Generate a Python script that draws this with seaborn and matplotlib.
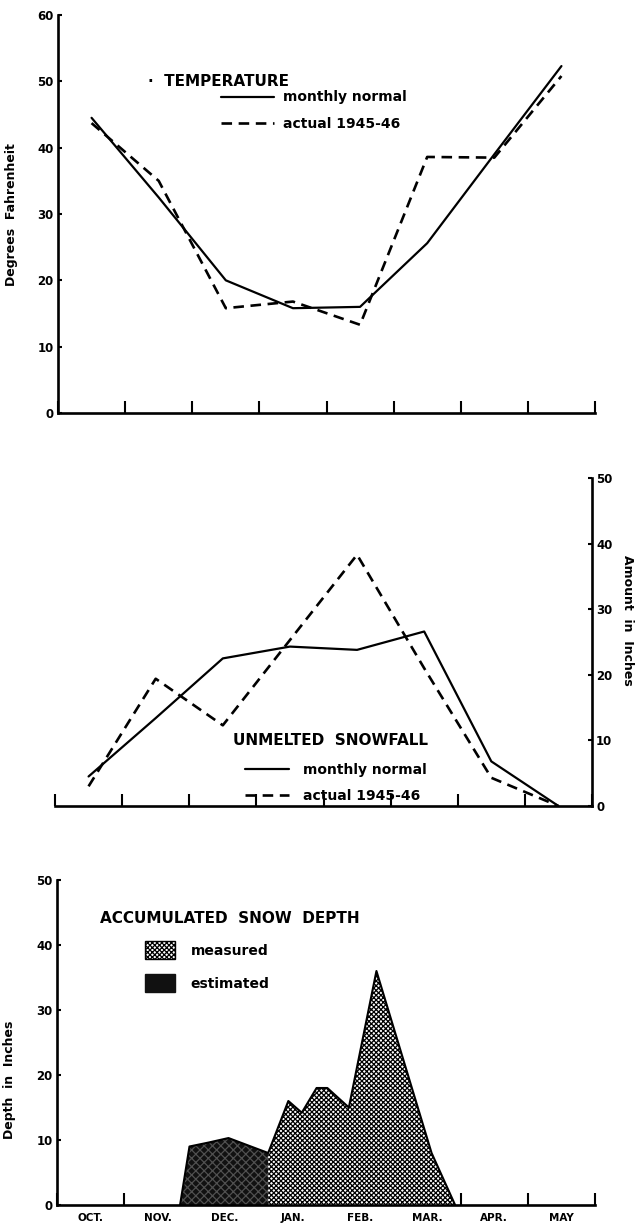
import numpy as np
import matplotlib
matplotlib.use("Agg")
import matplotlib.pyplot as plt
import seaborn as sns
from matplotlib.patches import Patch

# -------------------------
# Data
# -------------------------
months = ["OCT.", "NOV.", "DEC.", "JAN.", "FEB.", "MAR.", "APR.", "MAY"]

temp_normal = [44.5, 32.5, 20.0, 15.8, 16.0, 25.6, 39.0, 52.3]
temp_actual = [43.7, 35.0, 15.8, 16.8, 13.3, 38.6, 38.5, 50.8]

snow_normal = [4.5, 13.4, 22.5, 24.3, 23.8, 26.6, 6.8, 0.0]
snow_actual = [3.0, 19.4, 12.3, 25.3, 38.3, 21.0, 4.3, 0.0]

# snow depth, x in months after Oct 1
est_x = [1.83, 1.97, 2.25, 2.55, 3.14]
est_y = [0.0, 9.0, 9.6, 10.3, 8.0]
meas_x = [3.14, 3.44, 3.64, 3.86, 4.02, 4.34, 4.75, 5.57, 5.92]
meas_y = [8.0, 16.0, 14.2, 18.0, 18.0, 15.0, 36.0, 8.0, 0.0]

# -------------------------
# Style
# -------------------------
sns.set_style("ticks")
plt.rcParams["font.family"] = ["DejaVu Sans"]
plt.rcParams["font.weight"] = "bold"
plt.rcParams["hatch.linewidth"] = 0.9
for key in ["text.color", "axes.labelcolor", "xtick.color", "ytick.color", "axes.edgecolor"]:
    plt.rcParams[key] = "black"

mid = np.arange(len(months)) + 0.5
bounds = np.arange(len(months) + 1)

fig = plt.figure(figsize=(6.39, 12.29), dpi=100)

ax1 = fig.add_axes([58 / 639, 1 - 413 / 1229, 537 / 639, 398 / 1229])
ax2 = fig.add_axes([55 / 639, 1 - 806 / 1229, 537 / 639, 328 / 1229])
ax3 = fig.add_axes([57 / 639, 1 - 1205 / 1229, 538 / 639, 325 / 1229])

solid_kw = dict(color="black", lw=1.6)
dash_kw = dict(color="black", lw=1.9, linestyle=(0, (4, 2.5)))


def style_axes(ax, side="left"):
    for s in ["top", "right", "left", "bottom"]:
        ax.spines[s].set_visible(False)
    ax.spines["bottom"].set_visible(True)
    ax.spines[side].set_visible(True)
    for s in ["bottom", side]:
        ax.spines[s].set_linewidth(1.9)
    ax.set_xlim(0, 8)
    ax.set_xticks(bounds)
    ax.tick_params(axis="x", direction="in", length=9, width=1.5, labelbottom=False)
    ax.tick_params(axis="y", direction="in", length=3, width=1.5, labelsize=8.5, pad=3)
    ax.set_xlabel("")
    ax.set_ylabel("")


# -------------------------
# Temperature
# -------------------------
sns.lineplot(x=mid, y=temp_normal, ax=ax1, label="monthly normal", **solid_kw)
sns.lineplot(x=mid, y=temp_actual, ax=ax1, label="actual 1945-46", **dash_kw)
style_axes(ax1, "left")
ax1.set_ylim(0, 60)
ax1.set_yticks(range(0, 61, 10))
ax1.text(0.168, 0.832, "·  TEMPERATURE", transform=ax1.transAxes,
         fontsize=11, va="center", ha="left")
ax1.legend(loc="upper left", bbox_to_anchor=(0.28, 0.842), frameon=False,
           fontsize=10, handlelength=3.8, handletextpad=0.7, labelspacing=0.9)

# -------------------------
# Unmelted snowfall
# -------------------------
sns.lineplot(x=mid, y=snow_normal, ax=ax2, label="monthly normal", **solid_kw)
sns.lineplot(x=mid, y=snow_actual, ax=ax2, label="actual 1945-46", **dash_kw)
style_axes(ax2, "right")
ax2.set_ylim(0, 50)
ax2.set_yticks(range(0, 51, 10))
ax2.yaxis.tick_right()
ax2.tick_params(axis="y", direction="in", length=3, width=1.5, labelsize=8.5, pad=3)
ax2.text(0.331, 0.201, "UNMELTED  SNOWFALL", transform=ax2.transAxes,
         fontsize=11, va="center", ha="left")
ax2.legend(loc="upper left", bbox_to_anchor=(0.33, 0.17), frameon=False,
           fontsize=10, handlelength=3.2, handletextpad=1.0, labelspacing=0.9)

# -------------------------
# Accumulated snow depth
# -------------------------
ax3.fill_between(est_x, est_y, 0, facecolor="#111111", edgecolor="#505050",
                 hatch="xxxx", lw=0)
ax3.fill_between(meas_x, meas_y, 0, facecolor="white", edgecolor="black",
                 hatch="xxxxxxx", lw=0)
sns.lineplot(x=est_x + meas_x, y=est_y + meas_y, ax=ax3, sort=False,
             color="black", lw=1.5)
style_axes(ax3, "left")
ax3.set_ylim(0, 50)
ax3.set_yticks(range(0, 51, 10))
ax3.set_xticks(mid, minor=True)
ax3.set_xticklabels(months, minor=True)
ax3.tick_params(axis="x", which="minor", length=0, labelsize=7.5, pad=6,
                labelbottom=True)
ax3.text(0.08, 0.883, "ACCUMULATED  SNOW  DEPTH", transform=ax3.transAxes,
         fontsize=11, va="center", ha="left")
handles = [
    Patch(facecolor="white", edgecolor="black", hatch="xxxxxxx", lw=1),
    Patch(facecolor="#111111", edgecolor="#111111", lw=1),
]
ax3.legend(handles, ["measured", "estimated"], loc="upper left",
           bbox_to_anchor=(0.14, 0.85), frameon=False, fontsize=10,
           handlelength=2.2, handleheight=1.6, handletextpad=1.1,
           labelspacing=1.1)

# -------------------------
# Axis titles
# -------------------------
fig.text(12 / 639, 1 - 215 / 1229, "Degrees  Fahrenheit", rotation=90,
         fontsize=9, ha="center", va="center")
fig.text(628 / 639, 1 - 620 / 1229, "Amount  in  Inches", rotation=270,
         fontsize=9, ha="center", va="center")
fig.text(10 / 639, 1 - 1080 / 1229, "Depth  in  Inches", rotation=90,
         fontsize=9, ha="center", va="center")

fig.savefig("out.png", dpi=100, facecolor="white")
